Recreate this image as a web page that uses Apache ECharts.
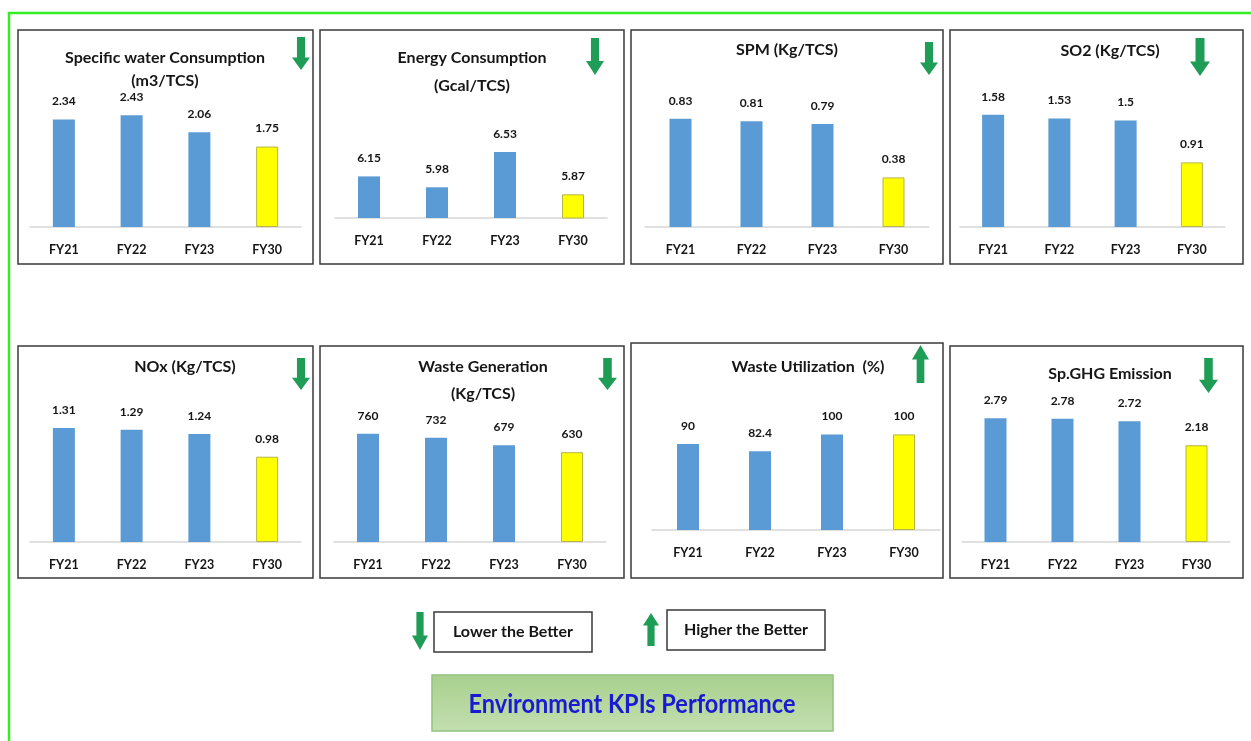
<!DOCTYPE html>
<html>
<head>
<meta charset="utf-8">
<script src="https://cdn.jsdelivr.net/npm/echarts@6/dist/echarts.min.js"></script>
<style>
html,body{margin:0;padding:0;background:#fff;}
#main{width:1251px;height:741px;}
</style>
</head>
<body>
<div id="main"></div>
<script>
// ---- data ----
const categories = ['FY21', 'FY22', 'FY23', 'FY30'];
const waterValues = [2.34, 2.43, 2.06, 1.75];
const energyValues = [6.15, 5.98, 6.53, 5.87];
const spmValues = [0.83, 0.81, 0.79, 0.38];
const so2Values = [1.58, 1.53, 1.5, 0.91];
const noxValues = [1.31, 1.29, 1.24, 0.98];
const wasteGenValues = [760, 732, 679, 630];
const wasteUtilValues = [90, 82.4, 100, 100];
const ghgValues = [2.79, 2.78, 2.72, 2.18];
const panelTitles = [
  ['Specific water Consumption', '(m3/TCS)'],
  ['Energy Consumption', '(Gcal/TCS)'],
  ['SPM (Kg/TCS)'],
  ['SO2 (Kg/TCS)'],
  ['NOx (Kg/TCS)'],
  ['Waste Generation', '(Kg/TCS)'],
  ['Waste Utilization  (%)'],
  ['Sp.GHG Emission']
];
const trends = ['down', 'down', 'down', 'down', 'down', 'down', 'up', 'down'];
const legendLabels = ['Lower the Better', 'Higher the Better'];
const mainTitle = 'Environment KPIs Performance';
const seriesValues = [waterValues, energyValues, spmValues, so2Values, noxValues, wasteGenValues, wasteUtilValues, ghgValues];

// ---- layout ----
const layout = [
  {box:[18,30,295,234],  grid:[30,90,271,137],  yMin:0,   yMax:2.98, title:[165,58,23], arrow:[292,37,18,33]},
  {box:[320,30,304,234], grid:[335,90,272,128], yMin:5.5, yMax:7.5,  title:[472,58,28], arrow:[586,38,18,37]},
  {box:[631,30,312,234], grid:[645,90,284,137], yMin:0,   yMax:1.05, title:[787,50,23], arrow:[920,42,18,33]},
  {box:[950,30,293,234], grid:[960,90,265,137], yMin:0,   yMax:1.93, title:[1110,51,23], arrow:[1190,38,20,38]},
  {box:[18,346,295,232], grid:[30,400,271,142], yMin:0,   yMax:1.632, title:[185,367,23], arrow:[292,358,18,32]},
  {box:[320,346,304,232],grid:[334,400,272,142],yMin:0,   yMax:996,  title:[483,367,27], arrow:[598,358,19,32]},
  {box:[631,343,312,235],grid:[652,400,288,130],yMin:0,   yMax:136,  title:[808,367,23], arrow:[912,345,17,38]},
  {box:[950,346,293,232],grid:[962,400,268,142],yMin:0,   yMax:3.2,  title:[1110,374,23], arrow:[1199,358,19,35]}
];

const GREEN = '#1f9c55';
const BLUE = '#5b9bd5';
const TXT = '#151515';
const titleFont = 'Lato, "Noto Sans", sans-serif';
const labelFont = '"Liberation Sans Narrow", Lato, "Noto Sans", sans-serif';

function arrowPoints(x0, y0, w, h, dir) {
  const cx = x0 + w / 2, sw = w * 0.45, hh = h * 0.38;
  if (dir === 'down') {
    return [[cx - sw/2, y0], [cx + sw/2, y0], [cx + sw/2, y0 + h - hh], [x0 + w, y0 + h - hh],
            [cx, y0 + h], [x0, y0 + h - hh], [cx - sw/2, y0 + h - hh]];
  }
  return [[cx - sw/2, y0 + h], [cx + sw/2, y0 + h], [cx + sw/2, y0 + hh], [x0 + w, y0 + hh],
          [cx, y0], [x0, y0 + hh], [cx - sw/2, y0 + hh]];
}

const grids = [], xAxes = [], yAxes = [], series = [], graphics = [];

// outer green frame
graphics.push({type:'rect', shape:{x:9, y:13, width:1270, height:800}, style:{fill:'none', stroke:'#33ee22', lineWidth:2.5}, z:1});

layout.forEach((p, i) => {
  grids.push({left:p.grid[0], top:p.grid[1], width:p.grid[2], height:p.grid[3]});
  xAxes.push({
    type:'category', gridIndex:i, data:categories,
    axisLine:{lineStyle:{color:'#d6d6d6', width:1.5}},
    axisTick:{show:false},
    axisLabel:{color:TXT, fontWeight:'bold', fontSize:12.5, fontFamily:labelFont, margin:16}
  });
  yAxes.push({type:'value', gridIndex:i, min:p.yMin, max:p.yMax, show:false, splitLine:{show:false}});
  series.push({
    type:'bar', xAxisIndex:i, yAxisIndex:i, barWidth:22,
    data: seriesValues[i].map((v, k) => k === 3
      ? {value:v, itemStyle:{color:'#ffff00', borderColor:'#b5b54a', borderWidth:1}}
      : {value:v, itemStyle:{color:BLUE}}),
    label:{show:true, position:'top', distance:12, color:TXT, fontWeight:'bold', fontSize:12, fontFamily:labelFont}
  });
  graphics.push({type:'rect', shape:{x:p.box[0], y:p.box[1], width:p.box[2], height:p.box[3]},
    style:{fill:'none', stroke:'#3a3a3a', lineWidth:1.5}, z:2});
  panelTitles[i].forEach((line, j) => {
    graphics.push({type:'text', x:p.title[0], y:p.title[1] + j * p.title[2],
      style:{text:line, align:'center', verticalAlign:'middle', fill:TXT,
        fontSize:16, fontWeight:'bold', fontFamily:titleFont}, z:3});
  });
  graphics.push({type:'polygon', shape:{points:arrowPoints(p.arrow[0], p.arrow[1], p.arrow[2], p.arrow[3], trends[i])},
    style:{fill:GREEN}, z:3});
});

// legend
graphics.push({type:'polygon', shape:{points:arrowPoints(412, 612, 16, 38, 'down')}, style:{fill:GREEN}, z:3});
graphics.push({type:'rect', shape:{x:434, y:612, width:158, height:40}, style:{fill:'#fff', stroke:'#3a3a3a', lineWidth:1.5}, z:2});
graphics.push({type:'text', x:513, y:632, style:{text:legendLabels[0], align:'center', verticalAlign:'middle', fill:TXT, fontSize:16, fontWeight:'bold', fontFamily:titleFont}, z:3});
graphics.push({type:'polygon', shape:{points:arrowPoints(643, 613, 16, 33, 'up')}, style:{fill:GREEN}, z:3});
graphics.push({type:'rect', shape:{x:667, y:610, width:158, height:40}, style:{fill:'#fff', stroke:'#3a3a3a', lineWidth:1.5}, z:2});
graphics.push({type:'text', x:746, y:630, style:{text:legendLabels[1], align:'center', verticalAlign:'middle', fill:TXT, fontSize:16, fontWeight:'bold', fontFamily:titleFont}, z:3});

// main title box
graphics.push({type:'rect', shape:{x:432, y:675, width:401, height:56},
  style:{fill:new echarts.graphic.LinearGradient(0,0,0,1,[{offset:0,color:'#a8d08d'},{offset:1,color:'#c3dfb0'}]),
    stroke:'#93c47d', lineWidth:1.5}, z:2});
graphics.push({type:'text', x:632, y:704, scaleX:0.87, originX:0, originY:0,
  style:{text:mainTitle, align:'center', verticalAlign:'middle',
  fill:'#1a1ad2', fontSize:27, fontWeight:'bold', fontFamily:titleFont}, z:3});

const chart = echarts.init(document.getElementById('main'));
chart.setOption({
  animation:false,
  backgroundColor:'#ffffff',
  grid:grids, xAxis:xAxes, yAxis:yAxes, series:series, graphic:graphics
});
</script>
</body>
</html>
